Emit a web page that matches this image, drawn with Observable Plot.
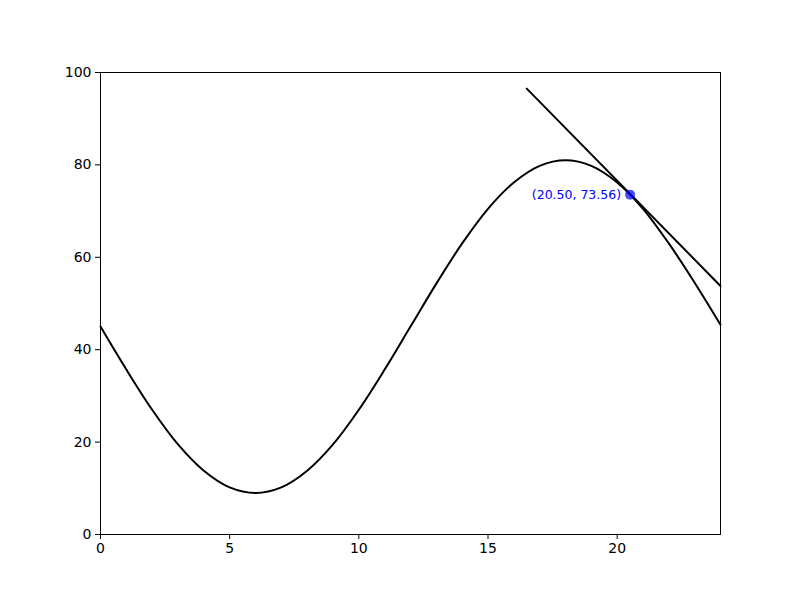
<!DOCTYPE html>
<html>
<head>
<meta charset="utf-8">
<script src="https://cdn.jsdelivr.net/npm/d3@7"></script>
<script src="https://cdn.jsdelivr.net/npm/@observablehq/plot@0.6"></script>
<style>
  html, body { margin: 0; padding: 0; background: #fff; }
  #chart svg { display: block; }
</style>
</head>
<body>
<div id="chart"></div>
<script>
// Curve values (hourly)
const hours = [0,1,2,3,4,5,6,7,8,9,10,11,12,13,14,15,16,17,18,19,20,21,22,23,24];
const values = [45,35.7,27,19.5,13.8,10.2,9,10.2,13.8,19.5,27,35.7,45,54.3,63,70.5,76.2,79.8,81,79.8,76.2,70.5,63,54.5,45.4];
// Tangent line endpoints
const tangentX = [16.5, 24];
const tangentY = [96.5, 53.8];
// Highlighted point
const pointX = [20.5];
const pointY = [73.56];
const pointLabel = ["(20.50, 73.56)"];
const xTicks = [0,5,10,15,20];
const yTicks = [0,20,40,60,80,100];

const curve = hours.map((h,i) => ({x: h, y: values[i]}));
const tangent = tangentX.map((x,i) => ({x, y: tangentY[i]}));
const pts = pointX.map((x,i) => ({x, y: pointY[i], label: pointLabel[i]}));

const chart = Plot.plot({
  width: 800,
  height: 600,
  marginLeft: 100,
  marginRight: 80,
  marginTop: 72,
  marginBottom: 66,
  style: {fontFamily: "DejaVu Sans", fontSize: "14px", background: "#fff", color: "#000"},
  x: {domain: [0, 24], ticks: xTicks, label: null},
  y: {domain: [0, 100], ticks: yTicks, label: null},
  marks: [
    Plot.axisX({ticks: xTicks, tickSize: 5, tickPadding: 4, fontSize: 14, label: null}),
    Plot.axisY({ticks: yTicks, tickSize: 5, tickPadding: 4, fontSize: 14, label: null}),
    Plot.line(curve, {x: "x", y: "y", stroke: "black", strokeWidth: 2, curve: "catmull-rom"}),
    Plot.line(tangent, {x: "x", y: "y", stroke: "black", strokeWidth: 2}),
    Plot.dot(pts, {x: "x", y: "y", r: 5, fill: "blue", fillOpacity: 0.7, stroke: "none"}),
    Plot.text(pts, {x: "x", y: "y", text: "label", textAnchor: "end", dx: -9, fill: "blue", fontSize: 12.5}),
    Plot.frame({stroke: "black", strokeWidth: 1})
  ]
});
document.getElementById("chart").appendChild(chart);
</script>
</body>
</html>
